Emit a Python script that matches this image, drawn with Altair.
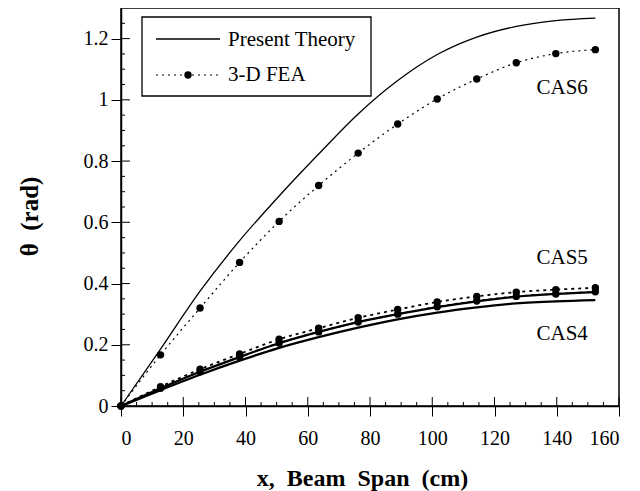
import altair as alt
import pandas as pd

# ---- data ----
x_span = [0, 12.7, 25.4, 38.1, 50.8, 63.5, 76.2, 88.9, 101.6, 114.3, 127.0, 139.7, 152.4]

theory_cas6 = [0, 0.186, 0.375, 0.54, 0.686, 0.823, 0.954, 1.063, 1.148, 1.205, 1.24, 1.259, 1.267]
fea_cas6 = [0, 0.167, 0.32, 0.469, 0.603, 0.72, 0.826, 0.921, 1.003, 1.068, 1.121, 1.151, 1.164]

theory_cas5 = [0, 0.058, 0.112, 0.160, 0.205, 0.242, 0.274, 0.300, 0.323, 0.342, 0.357, 0.366, 0.372]
fea_cas5 = [0, 0.063, 0.120, 0.170, 0.218, 0.254, 0.288, 0.315, 0.340, 0.358, 0.372, 0.380, 0.386]

theory_cas4 = [0, 0.052, 0.102, 0.148, 0.190, 0.225, 0.256, 0.283, 0.305, 0.322, 0.335, 0.342, 0.346]
fea_cas4 = [0, 0.058, 0.112, 0.160, 0.206, 0.242, 0.274, 0.300, 0.324, 0.343, 0.358, 0.366, 0.373]

legend_labels = ["Present Theory", "3-D FEA"]
case_labels = ["CAS6", "CAS5", "CAS4"]
case_label_x = [133.5, 133.5, 133.5]
case_label_y = [1.02, 0.465, 0.215]

x_major = [0, 20, 40, 60, 80, 100, 120, 140, 160]
x_minor = [5 * k for k in range(33) if k % 4]
y_major = [0, 0.2, 0.4, 0.6, 0.8, 1.0, 1.2]
y_minor = [round(0.05 * k, 2) for k in range(26) if k % 4]

W, H = 498, 398
FONT = "Liberation Serif"
NB = "\u00a0"

xs = alt.Scale(domain=[0, 160], nice=False, zero=False)
ys = alt.Scale(domain=[0, 1.3], nice=False, zero=False)

x_axis = alt.Axis(
    values=x_major, format="d", grid=False,
    tickSize=10, tickColor="black", tickWidth=1,
    domainColor="black", domainWidth=1.5,
    labelFont=FONT, labelFontSize=20, labelColor="black", labelPadding=12,
    title=f"x,{NB} Beam{NB} Span{NB} (cm)", titleFont=FONT, titleFontSize=24,
    titleFontWeight="bold", titleColor="black",
    titleX=241, titleY=79, titleBaseline="alphabetic", titleAlign="center",
)
y_axis = alt.Axis(
    values=y_major, format="~g", grid=False,
    tickSize=10, tickColor="black", tickWidth=1,
    domainColor="black", domainWidth=1.5,
    labelFont=FONT, labelFontSize=20, labelColor="black", labelPadding=3,
    title=f"θ{NB} (rad)", titleFont=FONT, titleFontSize=25,
    titleFontWeight="bold", titleColor="black",
    titleX=-84, titleY=208, titleBaseline="alphabetic", titleAlign="center",
    titleAngle=270,
)


def X(field="x"):
    return alt.X(f"{field}:Q", scale=xs, axis=x_axis)


def Y(field="y"):
    return alt.Y(f"{field}:Q", scale=ys, axis=y_axis)


def series(vals):
    return pd.DataFrame({"x": x_span, "y": vals})


layers = []

# theory curves
for vals, w in [(theory_cas6, 1.3), (theory_cas5, 2.3), (theory_cas4, 2.3)]:
    layers.append(
        alt.Chart(series(vals)).mark_line(color="black", strokeWidth=w, interpolate="monotone")
        .encode(x=X(), y=Y())
    )

# FEA dotted lines and dots
for vals, w, dash in [(fea_cas6, 1.2, [2, 4]), (fea_cas4, 1.6, [3, 4]), (fea_cas5, 1.8, [3, 4])]:
    df = series(vals)
    layers.append(
        alt.Chart(df).mark_line(color="black", strokeWidth=w, strokeDash=dash, interpolate="monotone")
        .encode(x=X(), y=Y())
    )
    layers.append(
        alt.Chart(df).mark_circle(color="black", size=55, opacity=1)
        .encode(x=X(), y=Y())
    )

# inward parts of major ticks and inward minor ticks
layers.append(
    alt.Chart(pd.DataFrame({"y": y_major})).mark_rule(color="black", strokeWidth=1)
    .encode(y=Y(), x=alt.value(0), x2=alt.value(9))
)
layers.append(
    alt.Chart(pd.DataFrame({"y": y_minor})).mark_rule(color="black", strokeWidth=1)
    .encode(y=Y(), x=alt.value(0), x2=alt.value(4))
)
layers.append(
    alt.Chart(pd.DataFrame({"x": x_major})).mark_rule(color="black", strokeWidth=1)
    .encode(x=X(), y=alt.value(H - 9), y2=alt.value(H))
)
layers.append(
    alt.Chart(pd.DataFrame({"x": x_minor})).mark_rule(color="black", strokeWidth=1)
    .encode(x=X(), y=alt.value(H - 4), y2=alt.value(H))
)

# case labels
layers.append(
    alt.Chart(pd.DataFrame({"x": case_label_x, "y": case_label_y, "label": case_labels}))
    .mark_text(font=FONT, fontSize=21, color="black", align="left", baseline="alphabetic")
    .encode(x=X(), y=Y(), text="label:N")
)

# legend box
one = pd.DataFrame({"k": [0]})
layers.append(
    alt.Chart(one).mark_rect(fill="white", stroke="black", strokeWidth=1.3)
    .encode(x=alt.value(21), x2=alt.value(250), y=alt.value(9), y2=alt.value(88))
)
layers.append(
    alt.Chart(one).mark_rule(color="black", strokeWidth=1.5)
    .encode(x=alt.value(35), x2=alt.value(99), y=alt.value(31))
)
layers.append(
    alt.Chart(one).mark_rule(color="black", strokeWidth=1.2, strokeDash=[2, 4])
    .encode(x=alt.value(35), x2=alt.value(99), y=alt.value(67))
)
layers.append(
    alt.Chart(one).mark_circle(color="black", size=55, opacity=1)
    .encode(x=alt.value(67), y=alt.value(67))
)
layers.append(
    alt.Chart(pd.DataFrame({"label": [legend_labels[0]]}))
    .mark_text(font=FONT, fontSize=21, color="black", align="left", baseline="alphabetic")
    .encode(x=alt.value(107), y=alt.value(38), text="label:N")
)
layers.append(
    alt.Chart(pd.DataFrame({"label": [legend_labels[1]]}))
    .mark_text(font=FONT, fontSize=21, color="black", align="left", baseline="alphabetic")
    .encode(x=alt.value(107), y=alt.value(73), text="label:N")
)

chart = (
    alt.layer(*layers)
    .properties(
        width=W, height=H,
        autosize=alt.AutoSizeParams(type="none"),
        padding={"left": 113, "top": 0, "right": 12, "bottom": 85},
        background="white",
    )
    .configure_view(stroke="black", strokeWidth=1.5)
)

chart.save("out.html", embed_options={"renderer": "svg", "actions": False})
